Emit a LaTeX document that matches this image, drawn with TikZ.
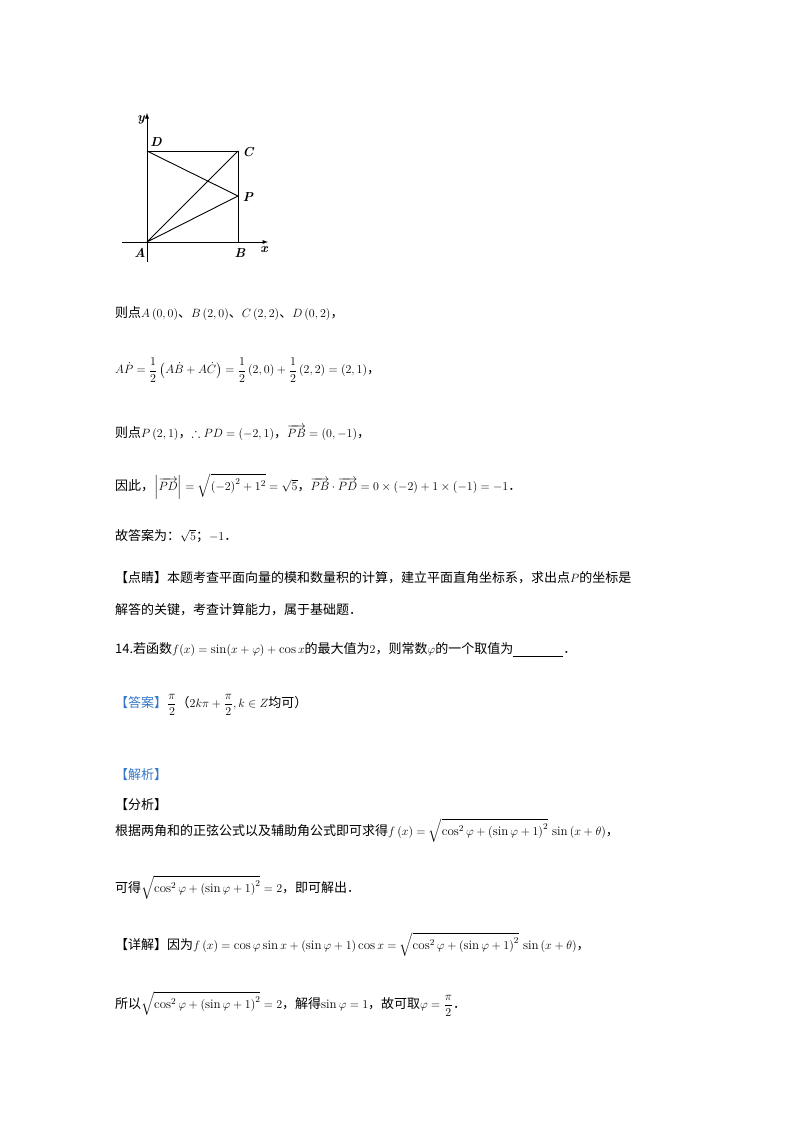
\documentclass[tikz,border=0pt]{standalone}
\usepackage{amsmath,amssymb}
\usepackage{fontspec}
\newfontfamily\cjk{Noto Sans CJK SC}
\definecolor{ans}{RGB}{52,120,200}
\begin{document}
\begin{tikzpicture}[x=1pt,y=-1pt,
  t/.style={anchor=west,inner sep=0pt,font=\fontsize{13}{15}\selectfont\cjk},
  lab/.style={inner sep=0pt,font=\bfseries\itshape\fontsize{13}{15}\selectfont},
  ln/.style={line width=0.9pt}]
\useasboundingbox (0,0) rectangle (800,1132);
% figure
\coordinate (A) at (147,242); \coordinate (B) at (238,242);
\coordinate (C) at (238,151); \coordinate (D) at (147,151);
\coordinate (P) at (238,196);
\coordinate (xs) at (122,242); \coordinate (xe) at (268,242);
\coordinate (ye) at (147,113); \coordinate (ys) at (147,262);
\draw[ln,-latex] (xs) -- (xe);
\draw[ln,-latex] (ys) -- (ye);
\draw[ln] (D) -- (C) -- (B);
\draw[ln] (A) -- (C) (A) -- (P) (D) -- (P);
\node[lab] (ly) at (141,120) {y};
\node[lab] (lx) at (264,250) {x};
\node[lab] (lA) at (140,253) {A};
\node[lab] (lB) at (240,253) {B};
\node[lab] (lC) at (248,152) {C};
\node[lab] (lD) at (156,142) {D};
\node[lab] (lP) at (248,197) {P};
% text
\node[t] (l1) at (115,314) {则点$A\left(0,0\right)$、$B\left(2,0\right)$、$C\left(2,2\right)$、$D\left(0,2\right)$，};
\node[t] (l2) at (115,370) {$A\dot{P}=\dfrac12\left(A\dot{B}+A\dot{C}\right)=\dfrac12\left(2,0\right)+\dfrac12\left(2,2\right)=\left(2,1\right)$，};
\node[t] (l3) at (115,433) {则点$P\left(2,1\right)$，$\therefore PD=\left(-2,1\right)$，$\overrightarrow{PB}=\left(0,-1\right)$，};
\node[t] (l4) at (115,486) {因此，$\left|\overrightarrow{PD}\right|=\sqrt{\left(-2\right)^2+1^2}=\sqrt5$，$\overrightarrow{PB}\cdot\overrightarrow{PD}=0\times\left(-2\right)+1\times(-1)=-1$．};
\node[t] (l5) at (115,536) {故答案为：$\sqrt5$；$-1$．};
\node[t] (l6) at (115,578) {【点睛】本题考查平面向量的模和数量积的计算，建立平面直角坐标系，求出点$P$的坐标是};
\node[t] (l7) at (115,610) {解答的关键，考查计算能力，属于基础题．};
\node[t] (l8) at (115,650) {14.若函数$f(x)=\sin(x+\varphi)+\cos x$的最大值为$2$，则常数$\varphi$的一个取值为\underline{\hspace{50pt}}．};
\node[t] (l9) at (115,705) {\textcolor{ans}{【答案】}$\dfrac{\pi}{2}$（$2k\pi+\dfrac{\pi}{2},k\in Z$均可）};
\node[t] (l10) at (115,775) {\textcolor{ans}{【解析】}};
\node[t] (l11) at (115,805) {【分析】};
\node[t] (l12) at (115,830) {根据两角和的正弦公式以及辅助角公式即可求得$f\left(x\right)=\sqrt{\cos^2\varphi+\left(\sin\varphi+1\right)^2}\,\sin\left(x+\theta\right)$，};
\node[t] (l13) at (115,887) {可得$\sqrt{\cos^2\varphi+\left(\sin\varphi+1\right)^2}=2$，即可解出．};
\node[t] (l14) at (115,944) {【详解】因为$f\left(x\right)=\cos\varphi\sin x+\left(\sin\varphi+1\right)\cos x=\sqrt{\cos^2\varphi+\left(\sin\varphi+1\right)^2}\,\sin\left(x+\theta\right)$，};
\node[t] (l15) at (115,1004) {所以$\sqrt{\cos^2\varphi+\left(\sin\varphi+1\right)^2}=2$，解得$\sin\varphi=1$，故可取$\varphi=\dfrac{\pi}{2}$．};
\end{tikzpicture}
\end{document}
